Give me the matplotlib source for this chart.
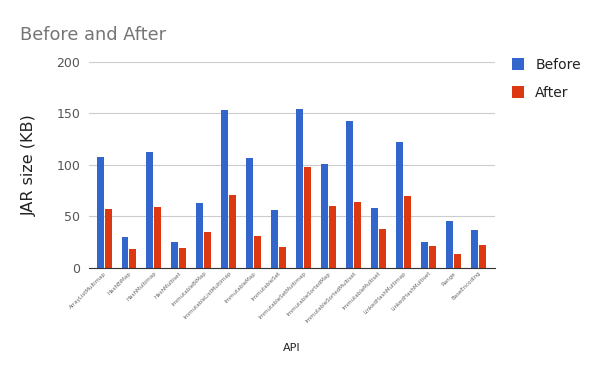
import numpy as np
import matplotlib.pyplot as plt

apis = ['ArrayListMultimap', 'HashBiMap', 'HashMultimap', 'HashMultiset',
        'ImmutableBiMap', 'ImmutableListMultimap', 'ImmutableMap', 'ImmutableSet',
        'ImmutableSetMultimap', 'ImmutableSortedMap', 'ImmutableSortedMultiset',
        'ImmutableMultiset', 'LinkedHashMultimap', 'LinkedHashMultiset',
        'Range', 'BaseEncoding']
before = [108, 30, 113, 25, 63, 153, 107, 56, 154, 101, 143, 58, 122, 25, 46, 37]
after = [57, 18, 59, 19, 35, 71, 31, 20, 98, 60, 64, 38, 70, 21, 13, 22]

fig = plt.figure(figsize=(6, 3.71), dpi=100)
ax = fig.add_axes([0.148, 0.278, 0.677, 0.555])

x = np.arange(len(apis))
w = 0.28
ax.bar(x - w / 2 - 0.02, before, w, color='#3366cc', label='Before')
ax.bar(x + w / 2 + 0.02, after, w, color='#dc3912', label='After')

ax.set_xlim(-0.61, len(apis) - 0.34)
ax.set_ylim(0, 200)
ax.set_yticks([0, 50, 100, 150, 200])
ax.yaxis.grid(True, color='#cccccc', linewidth=0.8)
ax.set_axisbelow(True)
for s in ['top', 'right', 'left']:
    ax.spines[s].set_visible(False)
ax.spines['bottom'].set_color('#333333')
ax.tick_params(axis='y', length=0, labelsize=9, labelcolor='#555555', pad=6)
ax.tick_params(axis='x', length=0, pad=2)
ax.set_xticks(x)
ax.set_xticklabels(apis, rotation=45, ha='right', rotation_mode='anchor',
                   fontsize=4, color='#666666')

ax.set_ylabel('JAR size (KB)', fontsize=11.5, color='#222222', labelpad=14)
ax.set_xlabel('API', fontsize=8, color='#222222', labelpad=14)
fig.text(0.033, 0.893, 'Before and After', fontsize=12.8, color='#757575')

ax.legend(loc='upper left', bbox_to_anchor=(1.01, 1.08), frameon=False,
          fontsize=10, handlelength=0.9, handleheight=0.9, labelspacing=1.0,
          labelcolor='#222222')

fig.savefig('out.png', dpi=100)
